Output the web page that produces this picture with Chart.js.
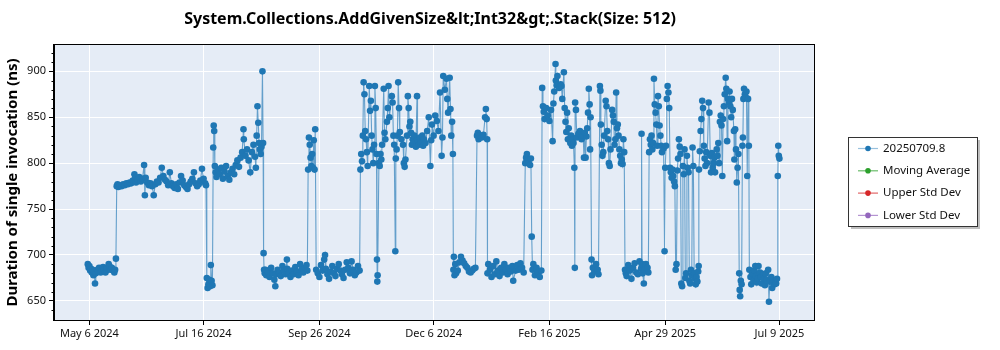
<!DOCTYPE html>
<html><head><meta charset="utf-8">
<script src="https://cdn.jsdelivr.net/npm/chart.js@4.4.1/dist/chart.umd.min.js"></script>
<style>html,body{margin:0;padding:0;background:#fff}#wrap{width:1000px;height:350px}</style>
</head><body><div id="wrap"><canvas id="c" width="1000" height="350"></canvas></div>
<script>
const chartTitle = "System.Collections.AddGivenSize&lt;Int32&gt;.Stack(Size: 512)";
const yAxisTitle = "Duration of single invocation (ns)";
const seriesNames = ["20250709.8", "Moving Average", "Upper Std Dev", "Lower Std Dev"];
const seriesColors = ["#1f77b4", "#2ca02c", "#d62728", "#9467bd"];
// x values are day offsets from May 6 2024
const xTickDays = [0, 71, 143, 214, 286, 358, 429];
const xTickLabels = ["May 6 2024", "Jul 16 2024", "Sep 26 2024", "Dec 6 2024", "Feb 16 2025", "Apr 29 2025", "Jul 9 2025"];
const yTicks = [650, 700, 750, 800, 850, 900];

const dayOffsets = [
  -1,-0.5,0,0.5,1,1.5,2,2.5,3,3.5,
  4,5,5.5,6,7,8,8.5,9,10,10.5,
  11,12,12.5,13,14,15,15.5,16,16.5,
  17,17.5,18,19,20,21,22,23,24,25,
  26,27,28,28.5,29,30,31,32,33,34,
  34.5,35,36,37,38,39,40,41,42,43,
  44,45,46,47,48,49,50,51,52,53,
  54,55,56,57,58,59,60,61,62,63,
  64,65,66,67,68,69,70,71,72,72.5,
  73,73.5,74,74.5,75,75.5,76,76.5,
  77,77.3,77.6,78,78.5,79,80,81,82,83,
  84,85,86,87,88,89,90,91,92,93,
  94,95,95.8,96,97,98,99,100,101,102,
  103,103.5,104,104.5,105,105.5,106,106.5,107,107.6,
  108,108.3,108.6,109,
  109.5,110,111,112,113,114,115,115.6,116,117,
  118,119,120,121,122,122.8,123,124,125,126,
  127,128,129,130,131,132,133,134,135,135.5,
  136,136.5,137,137.5,138,138.5,139,139.5,140,140.4,
  141,142,143,144,145,146,146.5,147,148,149,
  150,151,152,153,154,155,156,157,158,159,
  160,161,162,163,164,165,166,167,168,
  168.5,169,169.5,170,170.5,171,171.5,172,172.5,173,
  174,174.5,175,175.5,176,176.5,177,177.5,178,178.5,
  178.8,179,179.2,180,180.5,181,181.5,182,183,183.5,
  184,185,185.5,186,186.5,188,188.5,189,189.5,190.2,
  190.5,191,191.5,192,192.5,193,194,195,195.5,196,
  196.5,197.5,198,198.5,199,199.5,200,200.5,201,201.5,
  202,203,203.7,204,205,205.5,206,207,207.5,208,
  209,210,211,212,212.5,213,214,215,216,217,
  218,219,219.5,220,221,222,222.5,223,224,224.5,
  225,225.5,226,
  226.3,226.6,227,227.5,228,229,230,231,232,233,
  234,235,236,237,238,239,240,
  241,241.5,242,243,244,245,246,246.5,247,247.3,
  247.5,248,249,250,251,252,253,254,255,256,
  257,258,259,260,261,262,263,263.5,265,266,
  267,268,269,270,
  271,271.5,272,272.5,273,274,274.5,275,275.5,276,
  277,278,279,280,281,
  281.5,282,282.5,283,284,285,286,287,288,288.5,
  289,289.8,290,290.5,291,292,293,293.5,294,295,
  295.5,296,296.5,297,297.5,298,299,299.5,300,300.5,
  301,301.5,301.8,302,302.5,303,304,305,306,307,
  307.5,308,308.5,309,309.5,310,310.5,311,311.3,311.6,
  312.2,312.5,313,314,315,316,316.5,
  317.4,317.7,318,318.5,319,319.5,320,321,321.5,322,
  322.5,323,323.5,324,325,325.5,326,326.5,327,327.5,
  328,328.5,329,329.5,330,330.5,331,331.5,332,332.5,
  333,333.5,334,335,336,337,338,339,340,341,
  342,343,343.3,343.6,344,344.7,345,346,347,347.5,
  348,348.5,349,349.5,350,350.5,351,351.5,352,352.5,
  353,353.5,354,354.5,355,355.5,356,357,357.6,358,
  358.5,359,359.5,360,360.5,361,361.5,362,362.5,363,
  363.5,364,364.5,365,365.5,366,366.5,367,367.5,368,
  368.5,369,369.5,370,370.5,371,371.5,372,372.5,373,
  373.5,374,374.5,375,375.5,376,376.5,377,377.5,378,
  378.5,378.8,
  379,379.5,380,380.5,381,381.5,382,382.5,383,383.5,
  384,385,385.5,386,386.5,387,387.5,388,388.5,389,
  390,390.5,391,391.5,392,392.5,393,393.5,394,394.5,
  395,395.6,396,396.5,397,397.5,398,398.5,399,399.5,
  400,400.7,401,401.5,402,402.5,403,403.5,
  404,404.3,404.6,405,405.5,
  406,406.3,406.6,407,407.5,408,408.5,409,409.5,410,
  410.3,411,411.5,412,413,413.5,414,414.5,415,415.5,
  416,417,417.5,418,419,419.5,420,420.5,421,422,
  422.5,423,424,424.5,425,426,426.5,427,427.5,
  428,428.3,428.6,429
];
const durations = [
  690,686,688,683,685,681,684,678,682,669,
  680,684,682,686,681,683,687,684,681,683,
  686,690,688,684,686,683,681,684,696,
  775,777,774,776,775,777,776,778,777,779,
  778,781,788,784,779,782,785,780,783,798,
  765,784,779,776,778,775,765,777,780,779,
  784,795,786,782,780,776,790,778,775,773,
  777,772,779,786,781,776,774,772,777,780,
  783,790,778,775,777,781,794,783,778,776,
  675,664,668,673,666,689,672,667,
  817,841,835,797,790,785,793,788,795,783,
  791,797,786,782,790,794,788,798,803,796,
  806,812,837,826,808,815,803,790,812,820,
  807,795,830,862,844,822,815,810,818,900,
  822,702,684,680,
  684,678,682,676,686,680,673,666,679,684,
  681,677,688,683,679,695,685,680,676,683,
  679,687,682,678,690,684,681,686,689,683,
  793,828,820,806,797,810,795,825,793,837,
  684,680,676,689,683,695,700,685,679,674,
  682,688,680,677,685,690,683,679,675,684,
  692,686,680,693,684,678,681,688,683,
  793,810,802,830,888,875,835,826,812,797,
  884,857,868,830,815,800,820,884,860,810,
  695,671,678,800,797,810,804,820,881,833,
  826,845,860,884,850,873,866,830,820,704,
  805,815,830,888,860,834,826,820,800,796,
  804,830,873,860,840,845,833,820,826,822,
  830,818,873,825,820,828,822,830,819,826,
  822,835,850,797,825,842,830,852,846,835,
  877,808,828,895,880,892,870,855,893,859,
  830,845,810,
  684,698,678,690,680,683,692,698,694,691,
  688,686,682,681,683,685,686,
  830,833,826,830,828,831,850,859,848,826,
  680,690,684,676,688,679,693,683,677,686,
  681,690,684,679,686,682,688,672,683,689,
  684,691,686,681,
  800,806,810,803,800,798,805,720,684,690,
  678,686,681,676,683,
  882,862,856,848,860,852,846,858,824,865,
  878,908,890,885,895,882,886,884,870,899,
  860,845,834,855,826,838,822,830,819,826,
  822,795,686,866,858,828,832,835,826,830,
  806,833,806,829,838,855,881,864,815,850,
  695,678,686,682,690,684,679,
  884,879,842,820,808,812,830,868,862,835,
  826,800,797,815,858,852,845,820,826,877,
  838,842,830,815,808,800,804,799,826,812,
  684,680,677,689,683,674,686,691,681,679,
  693,685,832,690,680,669,684,690,686,681,
  812,826,820,830,815,822,892,864,855,842,
  819,873,862,841,830,819,812,816,704,795,
  819,870,884,877,860,795,790,784,793,786,
  780,775,684,690,792,805,826,818,810,669,
  666,797,788,815,675,680,808,795,790,672,
  669,684,678,817,797,680,674,668,676,671,
  682,688,
  793,813,835,848,868,860,819,805,797,812,
  800,866,855,808,790,811,795,800,806,790,
  815,808,822,800,845,852,841,786,848,862,
  875,893,881,824,870,866,878,862,850,870,
  858,835,804,837,815,779,795,810,
  680,662,655,672,668,
  819,828,870,881,875,872,878,786,870,819,
  684,676,668,680,672,683,688,677,670,674,
  688,681,676,669,679,674,667,680,673,684,
  649,671,676,664,670,668,672,669,674,
  786,819,808,805
];

const mainData = dayOffsets.map((d, i) => ({ x: d, y: durations[i] }));
const FONT = "'Noto Sans', 'DejaVu Sans', sans-serif";

const decor = {
  id: 'decor',
  beforeDraw(chart) {
    const { ctx, chartArea: a } = chart;
    ctx.save();
    ctx.fillStyle = '#E5ECF6';
    ctx.fillRect(a.left, a.top, a.right - a.left, a.bottom - a.top);
    ctx.restore();
  },
  afterDraw(chart) {
    const { ctx, chartArea: a } = chart;
    const ys = chart.scales.y;
    ctx.save();
    // frame
    ctx.strokeStyle = '#000';
    ctx.lineWidth = 1;
    ctx.strokeRect(a.left - 0.5, a.top - 0.5, a.right - a.left + 1, a.bottom - a.top + 1);
    // minor ticks on y
    ctx.beginPath();
    for (let v = 640; v <= 920; v += 10) {
      if (v % 50 === 0) continue;
      const py = Math.round(ys.getPixelForValue(v)) + 0.5;
      ctx.moveTo(a.left - 2.5, py);
      ctx.lineTo(a.left, py);
    }
    ctx.stroke();
    // title
    ctx.fillStyle = '#000';
    ctx.font = "bold 16px " + FONT;
    ctx.textAlign = 'center';
    ctx.textBaseline = 'middle';
    ctx.fillText(chartTitle, 430, 19);
    // legend
    const bx = 848, by = 137, bw = 129, bh = 89;
    ctx.fillStyle = 'rgba(0,0,0,0.25)';
    ctx.fillRect(bx + 3, by + 3, bw, bh);
    ctx.fillStyle = '#fff';
    ctx.fillRect(bx, by, bw, bh);
    ctx.strokeStyle = '#333';
    ctx.strokeRect(bx + 0.5, by + 0.5, bw, bh);
    ctx.font = "11.5px " + FONT;
    ctx.textAlign = 'left';
    ctx.textBaseline = 'middle';
    chart.data.datasets.forEach((ds, i) => {
      const ry = by + 11.5 + i * 22.3;
      ctx.strokeStyle = ds.borderColor;
      ctx.globalAlpha = 0.7;
      ctx.lineWidth = 1.2;
      ctx.beginPath();
      ctx.moveTo(bx + 10, ry);
      ctx.lineTo(bx + 30, ry);
      ctx.stroke();
      ctx.globalAlpha = 1;
      ctx.fillStyle = ds.pointBackgroundColor;
      ctx.beginPath();
      ctx.arc(bx + 20, ry, 2.8, 0, Math.PI * 2);
      ctx.fill();
      ctx.fillStyle = '#111';
      ctx.fillText(ds.label, bx + 35, ry);
    });
    ctx.restore();
  }
};

const emptySeries = (i) => ({
  label: seriesNames[i], data: [], borderColor: seriesColors[i],
  pointBackgroundColor: seriesColors[i], backgroundColor: seriesColors[i]
});

new Chart(document.getElementById('c'), {
  type: 'line',
  data: {
    datasets: [
      {
        label: seriesNames[0],
        data: mainData,
        borderColor: 'rgba(31,119,180,0.65)',
        backgroundColor: seriesColors[0],
        pointBackgroundColor: seriesColors[0],
        pointBorderWidth: 0,
        pointRadius: 3.3,
        borderWidth: 1.1,
        tension: 0
      },
      emptySeries(1), emptySeries(2), emptySeries(3)
    ]
  },
  options: {
    responsive: false,
    animation: false,
    devicePixelRatio: 1,
    layout: { padding: { left: 0, right: 186, top: 45, bottom: 0 } },
    plugins: { legend: { display: false }, title: { display: false }, tooltip: { enabled: false } },
    scales: {
      x: {
        type: 'linear', min: -22, max: 450.5,
        afterBuildTicks(s) { s.ticks = xTickDays.map(v => ({ value: v })); },
        afterFit(s) { s.height = 30; },
        ticks: {
          callback(v) { const k = xTickDays.indexOf(v); return k >= 0 ? xTickLabels[k] : ''; },
          font: { family: FONT, size: 11 }, color: '#111', padding: 2, maxRotation: 0, autoSkip: false
        },
        grid: { color: '#fff', lineWidth: 1, tickLength: 5, tickColor: '#000' },
        border: { display: true, color: '#000', width: 1 }
      },
      y: {
        min: 629.2, max: 928.7,
        afterBuildTicks(s) { s.ticks = yTicks.map(v => ({ value: v })); },
        afterFit(s) { s.width = 54; },
        ticks: { font: { family: FONT, size: 11 }, color: '#111', padding: 3 },
        grid: { color: '#fff', lineWidth: 1, tickLength: 5, tickColor: '#000' },
        border: { display: true, color: '#000', width: 1 },
        title: { display: true, text: yAxisTitle, color: '#000', font: { family: FONT, size: 15, weight: 'bold' }, padding: { top: 4, bottom: 0 } }
      }
    }
  },
  plugins: [decor]
});
</script></body></html>
